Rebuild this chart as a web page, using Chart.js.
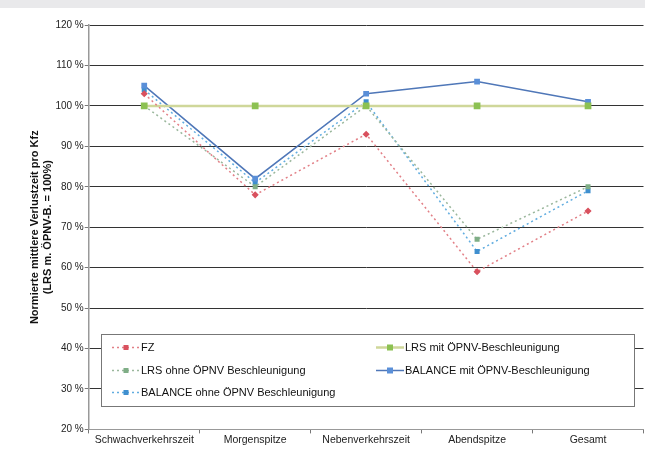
<!DOCTYPE html>
<html>
<head>
<meta charset="utf-8">
<script src="https://cdn.jsdelivr.net/npm/chart.js@4/dist/chart.umd.min.js"></script>
<style>
  html, body { margin: 0; padding: 0; background: #ffffff; overflow: hidden; }
  #band { position: absolute; left: 0; top: 0; width: 645px; height: 8px; background: #e9e9eb; }
  #wrap { position: absolute; left: 0; top: 0; width: 650px; height: 464px; }
</style>
</head>
<body>
<div id="wrap"><canvas id="c"></canvas></div>
<div id="band"></div>
<script>
// Zeitbereiche (Kategorien)
const categories = ['Schwachverkehrszeit', 'Morgenspitze', 'Nebenverkehrszeit', 'Abendspitze', 'Gesamt'];

// Normierte mittlere Verlustzeit pro Kfz in % (LRS m. ÖPNV-B. = 100 %)
const fz            = [103, 78, 93, 59, 74];
const lrsMit        = [100, 100, 100, 100, 100];
const lrsOhne       = [100, 80, 100, 67, 80];
const balanceMit    = [105, 82, 103, 106, 101];
const balanceOhne   = [104, 81, 101, 64, 79];

// Achsenbeschriftung
const yTicks = [20, 30, 40, 50, 60, 70, 80, 90, 100, 110, 120];
const yTitle = ['Normierte mittlere Verlustzeit pro Kfz', '(LRS m. ÖPNV-B. = 100%)'];

const FONT = "'Liberation Sans', Arial, sans-serif";

// Legende als umrandeter Kasten innerhalb der Zeichenfläche
const boxLegend = {
  id: 'boxLegend',
  afterDatasetsDraw(chart) {
    const ctx = chart.ctx;
    const x0 = 101, y0 = 334, x1 = 634, y1 = 406;
    ctx.save();
    ctx.fillStyle = '#ffffff';
    ctx.fillRect(x0, y0, x1 - x0, y1 - y0);
    ctx.strokeStyle = '#777777';
    ctx.lineWidth = 1;
    ctx.strokeRect(x0 + 0.5, y0 + 0.5, x1 - x0, y1 - y0);
    const slots = [
      [112, 347], [376, 347],
      [112, 370], [376, 370],
      [112, 392]
    ];
    ctx.font = '11px ' + FONT;
    ctx.textBaseline = 'middle';
    chart.data.datasets.forEach((ds, i) => {
      const [sx, sy] = slots[i];
      ctx.strokeStyle = ds.borderColor;
      ctx.lineWidth = ds.borderWidth;
      ctx.setLineDash(ds.borderDash || []);
      ctx.beginPath();
      ctx.moveTo(sx, sy + 0.5);
      ctx.lineTo(sx + 28, sy + 0.5);
      ctx.stroke();
      ctx.setLineDash([]);
      ctx.fillStyle = ds.pointBackgroundColor;
      const r = ds.pointRadius;
      ctx.fillRect(sx + 14 - r, sy + 0.5 - r, 2 * r, 2 * r);
      ctx.fillStyle = '#111111';
      ctx.fillText(ds.label, sx + 29, sy + 1);
    });
    ctx.restore();
  }
};

new Chart(document.getElementById('c'), {
  type: 'line',
  data: {
    labels: categories,
    datasets: [
      {
        label: 'FZ', data: fz,
        borderColor: '#e27f86', borderWidth: 1.5, borderDash: [2, 3],
        pointBackgroundColor: '#d9515e', pointBorderColor: '#d9515e',
        pointStyle: 'rectRot', pointRadius: 2.5
      },
      {
        label: 'LRS mit ÖPNV-Beschleunigung', data: lrsMit,
        borderColor: '#cfd79a', borderWidth: 2.5,
        pointBackgroundColor: '#8cc152', pointBorderColor: '#8cc152',
        pointStyle: 'rect', pointRadius: 3
      },
      {
        label: 'LRS ohne ÖPNV Beschleunigung', data: lrsOhne,
        borderColor: '#9ab79c', borderWidth: 1.5, borderDash: [2, 3],
        pointBackgroundColor: '#7fae86', pointBorderColor: '#7fae86',
        pointStyle: 'rect', pointRadius: 2.5
      },
      {
        label: 'BALANCE mit ÖPNV-Beschleunigung', data: balanceMit,
        borderColor: '#4f77b8', borderWidth: 1.5,
        pointBackgroundColor: '#5a8fd8', pointBorderColor: '#5a8fd8',
        pointStyle: 'rect', pointRadius: 3
      },
      {
        label: 'BALANCE ohne ÖPNV Beschleunigung', data: balanceOhne,
        borderColor: '#62ade0', borderWidth: 1.5, borderDash: [2, 3],
        pointBackgroundColor: '#3f8fcf', pointBorderColor: '#3f8fcf',
        pointStyle: 'rect', pointRadius: 2.5
      }
    ]
  },
  options: {
    responsive: true,
    maintainAspectRatio: false,
    animation: false,
    layout: { padding: { left: 28, top: 25, right: 0, bottom: 18 } },
    plugins: {
      legend: { display: false },
      tooltip: { enabled: false }
    },
    scales: {
      x: {
        offset: true,
        grid: { display: true, drawOnChartArea: false, drawTicks: true, tickLength: 4, offset: true, color: '#777777' },
        border: { color: '#999999', width: 1 },
        ticks: { color: '#222222', font: { family: FONT, size: 10.5 }, padding: 0, maxRotation: 0 }
      },
      y: {
        min: 20, max: 120,
        afterBuildTicks(axis) { axis.ticks = yTicks.map(v => ({ value: v })); },
        grid: { color: '#333333', lineWidth: 1, drawTicks: true, tickLength: 4, tickColor: '#777777' },
        border: { color: '#999999', width: 1.5 },
        ticks: {
          color: '#222222', font: { family: FONT, size: 10 }, padding: 1,
          callback: v => v + ' %'
        },
        title: {
          display: true, text: yTitle, color: '#111111',
          font: { family: FONT, size: 11, weight: 'bold' }, padding: { top: 0, bottom: 0 }
        }
      }
    }
  },
  plugins: [boxLegend]
});
</script>
</body>
</html>
